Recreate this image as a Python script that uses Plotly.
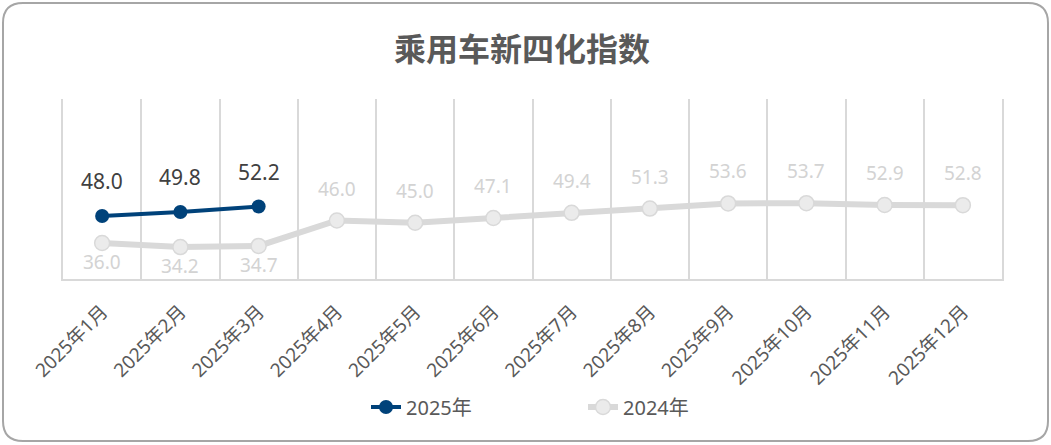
import plotly.graph_objects as go

months = ["2025年1月", "2025年2月", "2025年3月", "2025年4月", "2025年5月", "2025年6月",
          "2025年7月", "2025年8月", "2025年9月", "2025年10月", "2025年11月", "2025年12月"]
values_2025 = [48.0, 49.8, 52.2]
values_2024 = [36.0, 34.2, 34.7, 46.0, 45.0, 47.1, 49.4, 51.3, 53.6, 53.7, 52.9, 52.8]
name_2025 = "2025年"
name_2024 = "2024年"
title_text = "乘用车新四化指数"

W, H = 1051, 445
ML, MR, MT, MB = 63, 49, 99, 166
PW, PH = W - ML - MR, H - MT - MB

FONT = "Segoe UI, Noto Sans, Noto Sans CJK SC, sans-serif"
C25 = "#00427A"
C24 = "#D9D9D9"

fig = go.Figure()
fig.add_trace(go.Scatter(
    x=months, y=values_2024, name=name_2024, mode="lines+markers",
    line=dict(color=C24, width=6),
    marker=dict(size=15, color="#EBEBEB", line=dict(color=C24, width=1.5)),
    hoverinfo="x+y",
))
fig.add_trace(go.Scatter(
    x=months[:len(values_2025)], y=values_2025, name=name_2025, mode="lines+markers",
    line=dict(color=C25, width=4),
    marker=dict(size=14, color=C25),
    hoverinfo="x+y",
))

# data labels
for m, v in zip(months, values_2025):
    fig.add_annotation(x=m, y=v, text=f"{v:.1f}", showarrow=False, yshift=35,
                       font=dict(family=FONT, size=21, color="#404040"))
for i, (m, v) in enumerate(zip(months, values_2024)):
    below = i < len(values_2025)
    fig.add_annotation(x=m, y=v, text=f"{v:.1f}", showarrow=False,
                       yshift=-19 if below else 32,
                       font=dict(family=FONT, size=19, color="#D3D3D3"))

# rounded outer border (paper coords computed from pixel geometry)
def fx(px):
    return (px - ML) / PW

def fy(py):
    return (H - MB - py) / PH

x0, x1, y0, y1, r = 3, 1048, 3, 441, 20
path = (f"M{fx(x0 + r)},{fy(y0)} L{fx(x1 - r)},{fy(y0)} Q{fx(x1)},{fy(y0)} {fx(x1)},{fy(y0 + r)} "
        f"L{fx(x1)},{fy(y1 - r)} Q{fx(x1)},{fy(y1)} {fx(x1 - r)},{fy(y1)} "
        f"L{fx(x0 + r)},{fy(y1)} Q{fx(x0)},{fy(y1)} {fx(x0)},{fy(y1 - r)} "
        f"L{fx(x0)},{fy(y0 + r)} Q{fx(x0)},{fy(y0)} {fx(x0 + r)},{fy(y0)} Z")
fig.add_shape(type="path", path=path, xref="paper", yref="paper",
              line=dict(color="#A6A6A6", width=2), layer="below")

fig.update_layout(
    width=W, height=H,
    margin=dict(l=ML, r=MR, t=MT, b=MB),
    paper_bgcolor="white", plot_bgcolor="white",
    title=dict(text=f"<b>{title_text}</b>", x=522 / W, xref="container", xanchor="center",
               y=1 - 50 / H, yanchor="middle",
               font=dict(family="Noto Sans CJK SC, sans-serif", size=32, color="#595959")),
    showlegend=True,
    legend=dict(orientation="h", x=fx(366), xanchor="left", y=fy(407), yanchor="middle",
                traceorder="reversed", entrywidth=172, entrywidthmode="pixels",
                font=dict(family=FONT, size=20, color="#595959")),
    xaxis=dict(type="category", tickson="boundaries", showgrid=True, gridcolor=C24, gridwidth=2,
               showline=True, linecolor=C24, linewidth=2, ticks="", tickangle=-45,
               ticklabelstandoff=12,
               tickfont=dict(family=FONT, size=19, color="#595959"),
               range=[-0.5, len(months) - 0.5], fixedrange=True),
    yaxis=dict(range=[20, 100], showgrid=False, zeroline=False, showticklabels=False,
               showline=True, linecolor=C24, linewidth=2, mirror=True, ticks="", fixedrange=True),
    hovermode="closest",
)

fig.write_html("out.html", config={"displayModeBar": False},
               post_script="document.body.style.margin='0';")
